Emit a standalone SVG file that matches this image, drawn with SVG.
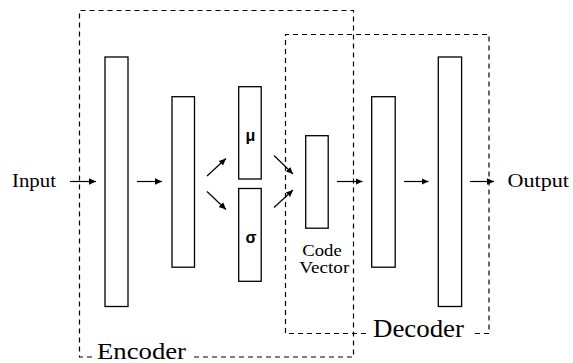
<svg xmlns="http://www.w3.org/2000/svg" width="573" height="363" viewBox="0 0 573 363">
<style>
.layer{fill:#fff;stroke:#000;stroke-width:1.3}
.box{fill:none;stroke:#000;stroke-width:1.2;stroke-dasharray:5,4}
.lbl{font-family:"Liberation Serif","Times New Roman",serif;fill:#000}
.sym{font-family:"Liberation Sans",Arial,sans-serif;font-weight:bold;font-size:16px;fill:#000;text-anchor:middle}
.arr{stroke:#000;stroke-width:1.2;fill:none;marker-end:url(#ah)}
</style>
<defs>
<marker id="ah" markerWidth="8" markerHeight="8" refX="7" refY="4" orient="auto" markerUnits="userSpaceOnUse">
<path d="M0,0.8 L7,4 L0,7.2 z" fill="#000"/>
</marker>
</defs>
<rect width="573" height="363" fill="#fff"/>
<g id="encoder-region">
<path class="box" d="M92,357 H79.5 V10.5 H353.5 V357 H193"/>
<text class="lbl" x="97" y="358.5" font-size="23.5" textLength="89" lengthAdjust="spacingAndGlyphs">Encoder</text>
</g>
<g id="decoder-region">
<path class="box" d="M366,333.5 H285.5 V34.5 H489 V333.5 H472"/>
<text class="lbl" x="373" y="336.5" font-size="24.5" textLength="91" lengthAdjust="spacingAndGlyphs">Decoder</text>
</g>
<g id="input"><text class="lbl" x="12" y="187" font-size="19" textLength="44" lengthAdjust="spacingAndGlyphs">Input</text></g>
<g id="enc1"><rect class="layer" x="105" y="57" width="23" height="249.5"/></g>
<g id="enc2"><rect class="layer" x="172" y="96.7" width="22.5" height="170.5"/></g>
<g id="mu"><rect class="layer" x="238.7" y="86.7" width="22.5" height="92.3"/><text class="sym" x="250.5" y="141">μ</text></g>
<g id="sigma"><rect class="layer" x="238.7" y="188.5" width="22.5" height="92.8"/><text class="sym" x="251" y="243">σ</text></g>
<g id="code"><rect class="layer" x="305.7" y="135.7" width="22.5" height="92.5"/>
<text class="lbl" x="302.3" y="255.5" font-size="16" textLength="39.4" lengthAdjust="spacingAndGlyphs">Code</text>
<text class="lbl" x="299.3" y="272.5" font-size="16" textLength="50" lengthAdjust="spacingAndGlyphs">Vector</text></g>
<g id="dec1"><rect class="layer" x="371.7" y="96.7" width="23.5" height="170.5"/></g>
<g id="dec2"><rect class="layer" x="438.3" y="57" width="23.3" height="249.5"/></g>
<g id="output"><text class="lbl" x="507.5" y="187" font-size="19" textLength="61.5" lengthAdjust="spacingAndGlyphs">Output</text></g>
<g id="connectors">
<line class="arr" x1="70" y1="181.5" x2="96" y2="181.5"/>
<line class="arr" x1="137" y1="181.5" x2="162" y2="181.5"/>
<line class="arr" x1="207" y1="176" x2="226" y2="158.5"/>
<line class="arr" x1="207" y1="191.5" x2="226" y2="209.5"/>
<line class="arr" x1="274" y1="155.5" x2="293" y2="174"/>
<line class="arr" x1="274" y1="207.5" x2="293" y2="190"/>
<line class="arr" x1="337" y1="181.5" x2="362.5" y2="181.5"/>
<line class="arr" x1="404" y1="181.5" x2="428.5" y2="181.5"/>
<line class="arr" x1="470" y1="181.5" x2="494" y2="181.5"/>
</g>
</svg>
